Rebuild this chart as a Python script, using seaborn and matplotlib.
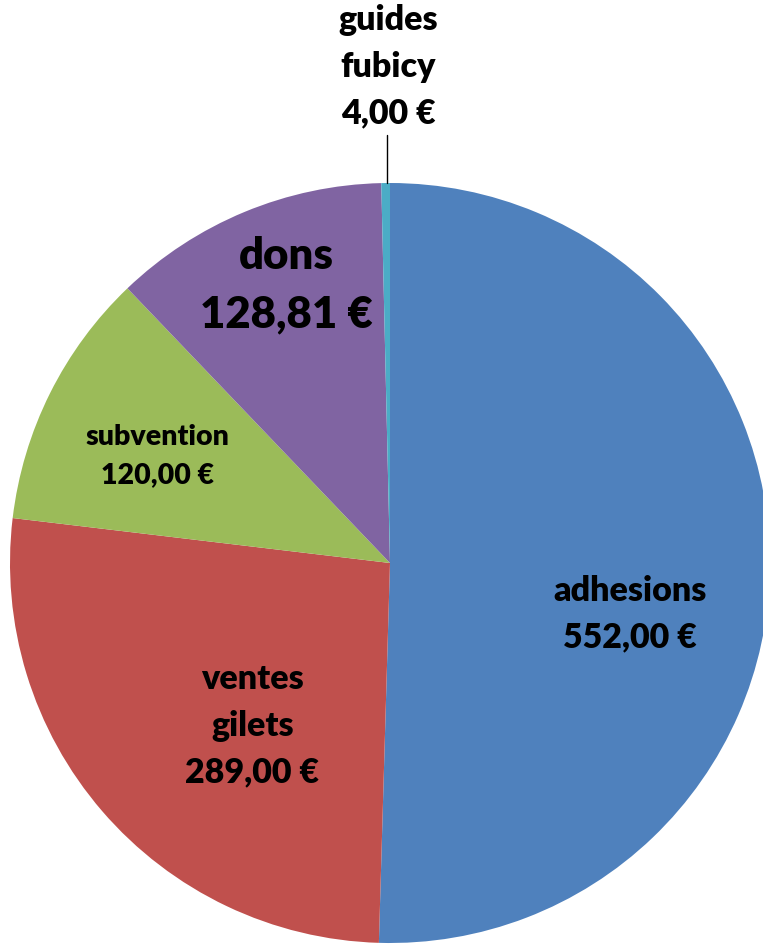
import matplotlib
matplotlib.use("Agg")
import matplotlib.pyplot as plt
import seaborn as sns

categories = ["adhesions", "ventes\ngilets", "subvention", "dons", "guides\nfubicy"]
values = [552.00, 289.00, 120.00, 128.81, 4.00]
colors = ["#4F81BD", "#C0504D", "#9BBB59", "#8064A2", "#4BACC6"]

sns.set_style("white")
plt.rcParams["font.family"] = ["Lato", "DejaVu Sans"]

fig = plt.figure(figsize=(7.63, 9.44), dpi=100)
W, H = 763, 944
cx, cy, R = 390, 563, 380
ax = fig.add_axes([(cx - R) / W, (H - cy - R) / H, 2 * R / W, 2 * R / H])
ax.axis("off")

ax.pie(values, colors=colors, startangle=90, counterclock=False, radius=1,
       wedgeprops=dict(linewidth=0))
ax.set_xlim(-1, 1)
ax.set_ylim(-1, 1)
ax.set_aspect("equal")

def fmt(v):
    return f"{v:,.2f}".replace(",", " ").replace(".", ",") + " €"

# last-line baseline positions of each label
label_pos = [(0.632, -0.221), (-0.362, -0.576), (-0.613, 0.211), (-0.274, 0.621), (-0.004, 1.158)]
sizes = [24.5, 24.5, 20.5, 31.5, 24.5]
for cat, v, (x, y), s in zip(categories, values, label_pos, sizes):
    ax.text(x, y, f"{cat}\n{fmt(v)}", ha="center", va="baseline", fontsize=s,
            fontweight="heavy", color="black", linespacing=1.55, clip_on=False)

ax.plot([-0.008, -0.008], [1.0, 1.126], color="black", lw=1, clip_on=False)

fig.savefig("out.png", dpi=100)
